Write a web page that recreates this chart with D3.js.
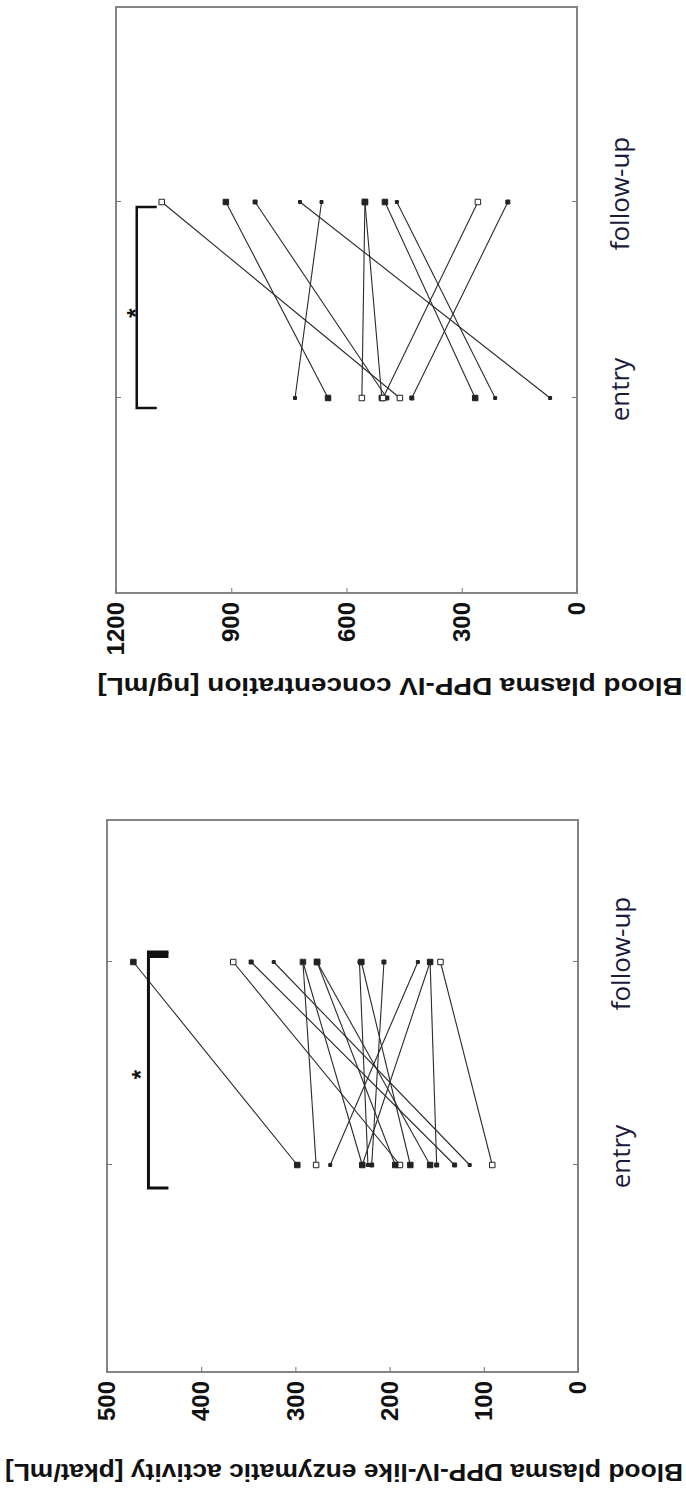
<!DOCTYPE html>
<html><head><meta charset="utf-8">
<script src="https://cdn.jsdelivr.net/npm/d3@7"></script>
<style>body{margin:0;background:#fff}svg{display:block}</style></head>
<body>
<script>
// ---- data ----
const categories = ["entry", "follow-up"];

const concTitle = "Blood plasma DPP-IV concentration [ng/mL]";
const concTicks = [0, 300, 600, 900, 1200];
const concEntry  = [461, 648, 495, 70, 734, 560, 508, 265, 213, 505, 430];
const concFollow = [1081, 914, 838, 721, 665, 552, 552, 500, 469, 258, 180];
const concMarkers = ["open","filled","small","dot","dot","open","filled","filled","dot","open","small"];
const concBracket = 1146;

const actTitle = "Blood plasma DPP-IV-like enzymatic activity  [pkat/mL]";
const actTicks = [0, 100, 200, 300, 400, 500];
const actEntry  = [298, 189, 131, 115, 278, 229, 194, 157, 178, 223, 219, 263, 229, 91, 150];
const actFollow = [472, 366, 347, 323, 292, 292, 277, 277, 230, 232, 206, 170, 157, 146, 157];
const actMarkers = ["filled","open","small","dot","open","small","filled","filled","filled","dot","small","dot","filled","open","small"];
const actBracket = 456;

// ---- layout (drawn in the chart's own orientation, then rotated) ----
const W = 686, H = 1492;
const svg = d3.select("body").append("svg").attr("width", W).attr("height", H);
const root = svg.append("g").attr("transform", `translate(0,${H}) rotate(-90)`);

function panel(cfg) {
  const g = root.append("g");
  const y = d3.scaleLinear().domain([0, cfg.max]).range([cfg.y1, cfg.y0]);
  const x = d3.scalePoint().domain(categories).range([cfg.px0, cfg.px1]);

  // frame
  g.append("rect").attr("x", cfg.x0).attr("y", cfg.y0)
    .attr("width", cfg.x1 - cfg.x0).attr("height", cfg.y1 - cfg.y0)
    .attr("fill", "none").attr("stroke", "#858585").attr("stroke-width", 2);

  // value axis (left)
  const ya = g.append("g").attr("transform", `translate(${cfg.x0},0)`)
    .call(d3.axisLeft(y).tickValues(cfg.ticks).tickFormat(d3.format("d"))
      .tickSizeInner(-5).tickSizeOuter(0).tickPadding(9));
  ya.select(".domain").remove();
  ya.selectAll(".tick line").attr("stroke", "#777");
  ya.selectAll(".tick text").attr("font-family", "Liberation Sans, Arial, sans-serif")
    .attr("font-weight", "bold").attr("font-size", 24).attr("fill", "#111");

  // category axis (bottom) + mirrored top ticks
  const xa = g.append("g").attr("transform", `translate(0,${cfg.y1})`)
    .call(d3.axisBottom(x).tickSizeInner(-5).tickSizeOuter(0).tickPadding(34));
  xa.select(".domain").remove();
  xa.selectAll(".tick line").attr("stroke", "#777");
  xa.selectAll(".tick text").attr("font-family", "Open Sans, Liberation Sans, sans-serif")
    .attr("font-size", 26).attr("font-weight", 500).attr("fill", "#1a1a3c").attr("dx", 8);
  const xt = g.append("g").attr("transform", `translate(0,${cfg.y0})`)
    .call(d3.axisTop(x).tickSizeInner(-5).tickSizeOuter(0).tickFormat(""));
  xt.select(".domain").remove();
  xt.selectAll(".tick line").attr("stroke", "#777");

  // axis title
  g.append("text")
    .attr("transform", `translate(${cfg.titleX},${cfg.titleY}) rotate(-90)`)
    .attr("text-anchor", "middle")
    .attr("font-family", "Liberation Sans, Arial, sans-serif")
    .attr("font-weight", "bold").attr("font-size", 24).attr("fill", "#111")
    .attr("textLength", cfg.titleLen).attr("lengthAdjust", "spacingAndGlyphs")
    .text(cfg.title);

  // subject lines
  const pairs = cfg.entry.map((e, i) => ({ e, f: cfg.follow[i], m: cfg.markers[i] }));
  g.append("g").selectAll("line").data(pairs).join("line")
    .attr("x1", x("entry")).attr("y1", d => y(d.e))
    .attr("x2", x("follow-up")).attr("y2", d => y(d.f))
    .attr("stroke", "#2a2a2a").attr("stroke-width", 1.1);

  // markers
  const pts = [];
  pairs.forEach(p => { pts.push({ c: "entry", v: p.e, m: p.m }); pts.push({ c: "follow-up", v: p.f, m: p.m }); });
  const sym = d3.symbol().type(d3.symbolSquare);
  g.append("g").selectAll("path").data(pts).join("path")
    .attr("transform", d => `translate(${x(d.c)},${y(d.v)})`)
    .attr("d", d => sym.size(d.m === "dot" ? 9 : d.m === "small" ? 16 : 30)())
    .attr("fill", d => d.m === "open" ? "#fff" : "#222")
    .attr("stroke", "#222").attr("stroke-width", 1);

  // significance bracket
  const bx0 = x("entry") - cfg.bpadL, bx1 = x("follow-up") - cfg.bpadR;
  const by = y(cfg.bracket);
  g.append("path")
    .attr("d", `M${bx0},${by + 20}V${by}H${bx1}V${by + 20}`)
    .attr("fill", "none").attr("stroke", "#111").attr("stroke-width", cfg.bw);
  if (cfg.capThick) {
    g.append("line").attr("x1", bx1 - 3).attr("x2", bx1 - 3)
      .attr("y1", by - 1).attr("y2", by + 20)
      .attr("stroke", "#111").attr("stroke-width", 6);
  }
  g.append("text")
    .attr("x", (x("entry") + x("follow-up")) / 2 + cfg.starDx).attr("y", by + cfg.starDy)
    .attr("text-anchor", "middle")
    .attr("font-family", "Liberation Sans, Arial, sans-serif").attr("font-weight", "bold")
    .attr("font-size", 24).attr("fill", "#111")
    .text("*");
}

// concentration panel (right in original orientation)
panel({
  x0: 899, x1: 1485, y0: 116, y1: 577, px0: 1094, px1: 1290,
  max: 1200, ticks: concTicks, entry: concEntry, follow: concFollow, markers: concMarkers,
  title: concTitle, titleX: 814, titleY: 390, titleLen: 585,
  bracket: concBracket, bpadL: 10, bpadR: 5, bw: 2.5, starDx: -13, starDy: 7, capThick: false
});

// activity panel (left in original orientation)
panel({
  x0: 120, x1: 672, y0: 107, y1: 578, px0: 327, px1: 530,
  max: 500, ticks: actTicks, entry: actEntry, follow: actFollow, markers: actMarkers,
  title: actTitle, titleX: 28, titleY: 344, titleLen: 678,
  bracket: actBracket, bpadL: 23, bpadR: -10, bw: 3, starDx: -11, starDy: 1, capThick: true
});
</script>
</body></html>
